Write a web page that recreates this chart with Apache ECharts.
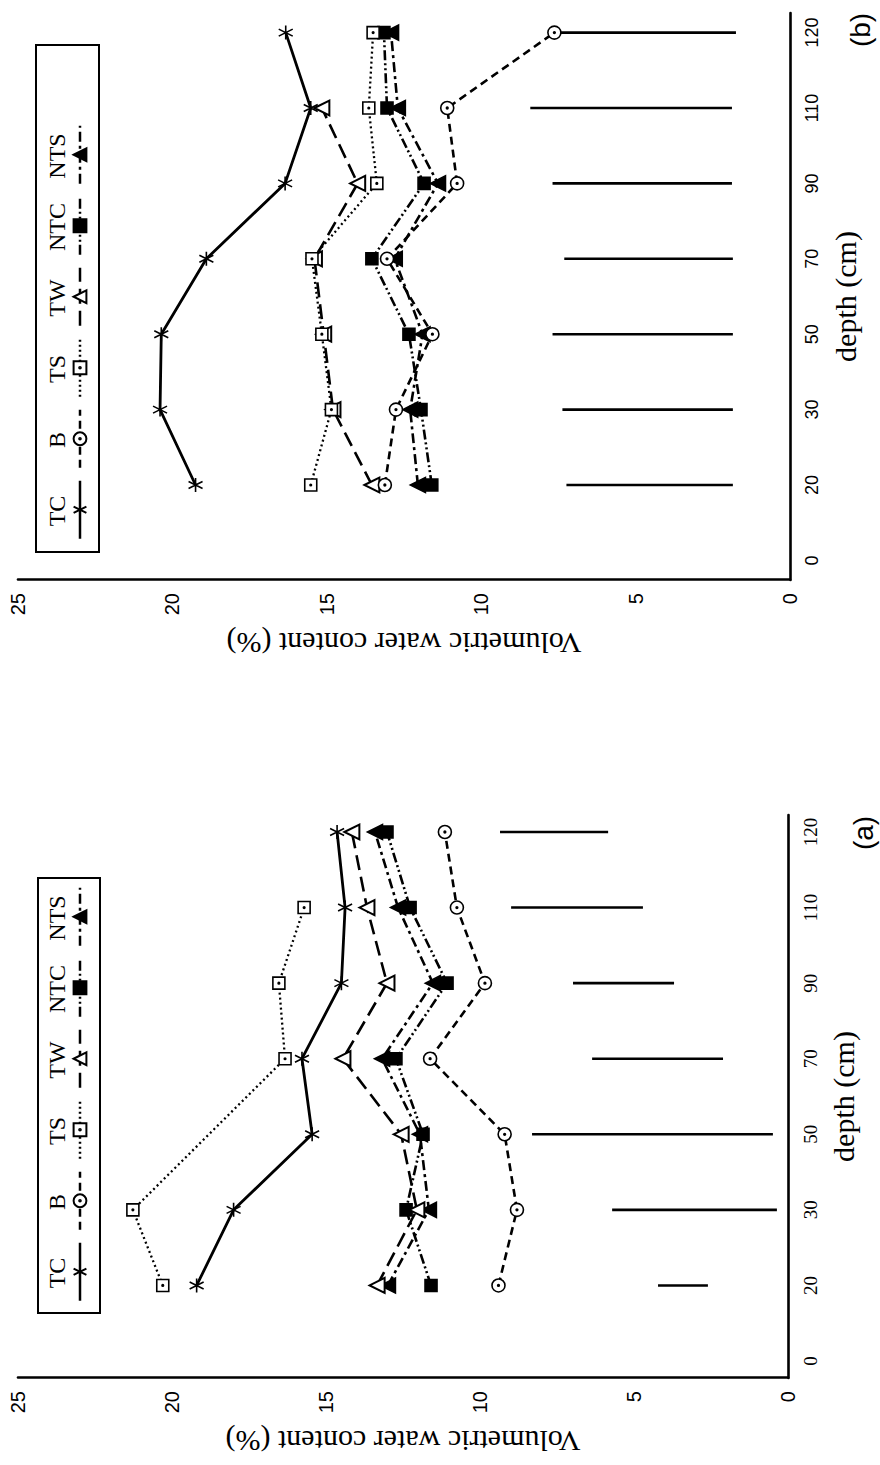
<!DOCTYPE html>
<html>
<head>
<meta charset="utf-8">
<script src="https://cdn.jsdelivr.net/npm/echarts@6/dist/echarts.min.js"></script>
<style>
html,body{margin:0;padding:0;background:#fff;width:880px;height:1465px;overflow:hidden;}
#chart{position:absolute;left:0;top:0;width:1465px;height:880px;transform-origin:0 0;transform:translate(0px,1465px) rotate(-90deg);background:#fff;}
</style>
</head>
<body>
<div id="chart"></div>
<script>
// ---------- data ----------
const depthCats = ['0', '20', '30', '50', '70', '90', '110', '120'];
const measuredDepths = ['20', '30', '50', '70', '90', '110', '120'];
const seriesNames = ['TC', 'B', 'TS', 'TW', 'NTC', 'NTS'];
const valueTicks = [0, 5, 10, 15, 20, 25];

// panel (a)
const a_TC  = [19.2, 18.0, 15.45, 15.78, 14.5, 14.38, 14.64];
const a_B   = [9.4, 8.8, 9.2, 11.62, 9.84, 10.75, 11.14];
const a_TS  = [20.3, 21.27, null, 16.33, 16.53, 15.71, null];
const a_TW  = [13.34, 12.05, 12.56, 14.45, 13.02, 13.67, 14.16];
const a_NTC = [11.59, 12.4, 11.85, 12.73, 11.07, 12.27, 13.02];
const a_NTS = [12.99, 11.66, 11.95, 13.18, 11.53, 12.66, 13.41];
const a_lsdLow  = [2.6, 0.36, 0.49, 2.11, 3.7, 4.71, 5.84];
const a_lsdHigh = [4.22, 5.71, 8.31, 6.36, 6.98, 8.99, 9.35];

// panel (b)
const b_TC  = [19.25, 20.4, 20.36, 18.9, 16.35, 15.52, 16.33];
const b_B   = [13.12, 12.76, 11.58, 13.05, 10.78, 11.1, 7.63];
const b_TS  = [15.52, 14.85, 15.16, 15.48, 13.38, 13.64, 13.5];
const b_TW  = [13.54, 14.8, 15.1, 15.4, 14.0, 15.16, null];
const b_NTC = [11.6, 11.95, 12.34, 13.54, 11.85, 13.05, 13.15];
const b_NTS = [12.05, 12.3, 11.9, 12.8, 11.4, 12.7, 12.92];
const b_lsdLow  = [1.85, 1.85, 1.85, 1.85, 1.88, 1.88, 1.75];
const b_lsdHigh = [7.24, 7.37, 7.69, 7.31, 7.69, 8.41, 7.5];

// ---------- styles ----------
const ASTERISK = 'path://M-10,0L10,0M-5,-8.66L5,8.66M5,-8.66L-5,8.66';
const DOT_CIRCLE = 'path://M10,0A10,10,0,1,1,-10,0A10,10,0,1,1,10,0Z M1.3,0A1.3,1.3,0,1,1,-1.3,0A1.3,1.3,0,1,1,1.3,0Z';
const DOT_SQUARE = 'path://M-10,-10L10,-10L10,10L-10,10Z M1.3,0A1.3,1.3,0,1,1,-1.3,0A1.3,1.3,0,1,1,1.3,0Z';
const styles = {
  TC:  {symbol: ASTERISK, size: 14, width: 2.8, dash: 'solid', fill: '#000', z: 6},
  B:   {symbol: DOT_CIRCLE, size: 13, width: 2.6, dash: [8, 5], fill: '#fff', z: 5},
  TS:  {symbol: DOT_SQUARE, size: 12, width: 2.3, dash: [2, 3], fill: '#fff', z: 4},
  TW:  {symbol: 'emptyTriangle', size: 15, width: 2.6, dash: [15, 7], fill: '#000', z: 3},
  NTC: {symbol: 'rect', size: 12, width: 2.6, dash: [10, 3, 2, 3, 2, 3], fill: '#000', z: 2},
  NTS: {symbol: 'triangle', size: 15, width: 2.6, dash: [10, 4, 3, 4], fill: '#000', z: 2}
};
const SERIF = 'Liberation Serif';
const SANS = 'Liberation Sans';

function lineSeries(name, vals, gi) {
  const st = styles[name];
  return {
    type: 'line', name: name, xAxisIndex: gi, yAxisIndex: gi,
    data: measuredDepths.map((d, i) => vals[i] == null ? null : [depthCats.indexOf(d), vals[i]]).filter(p => p),
    symbol: st.symbol, symbolSize: st.size, showSymbol: true, showAllSymbol: true,
    lineStyle: {color: '#000', width: st.width, type: st.dash},
    itemStyle: {color: st.fill, borderColor: '#000', borderWidth: 1.6},
    emphasis: {disabled: true}, silent: true, animation: false, z: st.z
  };
}
function lsdSeries(low, high, gi) {
  return {
    type: 'custom', xAxisIndex: gi, yAxisIndex: gi, silent: true, animation: false,
    data: measuredDepths.map((d, i) => [depthCats.indexOf(d), low[i], high[i]]),
    encode: {x: 0, y: [1, 2]},
    renderItem: function (params, api) {
      const p1 = api.coord([api.value(0), api.value(1)]);
      const p2 = api.coord([api.value(0), api.value(2)]);
      return {type: 'line', shape: {x1: p1[0], y1: p1[1], x2: p2[0], y2: p2[1]},
              style: {stroke: '#000', lineWidth: 2.6}};
    }
  };
}
function depthAxis(gi, pad, family, size) {
  return {
    type: 'value', gridIndex: gi, min: -pad, max: 7 + pad, position: 'bottom',
    axisLine: {show: true, onZero: false, lineStyle: {color: '#000', width: 2.6}},
    axisTick: {show: false}, splitLine: {show: false},
    axisLabel: {customValues: depthCats.map((_, i) => i), formatter: v => (depthCats[v] !== undefined ? depthCats[v] : ''),
                color: '#000', fontFamily: family, fontSize: size, margin: 13},
    name: 'depth (cm)', nameLocation: 'middle', nameGap: 40,
    nameTextStyle: {color: '#000', fontFamily: SERIF, fontSize: 30}
  };
}
function valueAxis(gi) {
  return {
    type: 'value', gridIndex: gi, min: valueTicks[0], max: valueTicks[valueTicks.length - 1], interval: 5,
    axisLine: {show: true, onZero: false, lineStyle: {color: '#000', width: 2.6}},
    axisTick: {show: false}, splitLine: {show: false},
    axisLabel: {color: '#000', fontFamily: SANS, fontSize: 20, margin: 13},
    name: 'Volumetric water content (%)', nameLocation: 'middle', nameGap: 48, nameRotate: 90,
    nameTextStyle: {color: '#000', fontFamily: SERIF, fontSize: 30}
  };
}
// legend geometry (one single-item legend per entry, so spacing is exact)
const LEG_ITEM_W = 58, LEG_PITCH = 71;
const legendA = {box: [152, 38, 435, 62], first: 163};
const legendB = {box: [913, 36, 507, 63], first: 925};
function mkLegends(cfg) {
  return seriesNames.map((n, i) => ({
    left: cfg.first + i * LEG_PITCH, top: 72, padding: 0, orient: 'horizontal', align: 'left',
    data: [n], itemWidth: LEG_ITEM_W, itemHeight: 16, itemGap: 0,
    formatter: () => '', selectedMode: false, textStyle: {fontSize: 10}, lineStyle: {width: 2.5}
  }));
}
function legendGraphics(cfg) {
  const b = cfg.box;
  const els = [{type: 'rect', silent: true, shape: {x: b[0], y: b[1], width: b[2], height: b[3]},
                style: {fill: 'none', stroke: '#000', lineWidth: 2}}];
  seriesNames.forEach((n, i) => els.push({
    type: 'text', x: cfg.first + i * LEG_PITCH + LEG_ITEM_W / 2, y: 57, silent: true,
    style: {text: n, fill: '#000', fontFamily: SERIF, fontSize: 24, align: 'center', verticalAlign: 'middle'}
  }));
  return els;
}

const option = {
  backgroundColor: '#fff',
  animation: false,
  grid: [
    {left: 87, top: 18, width: 563, height: 770, outerBoundsMode: 'none', containLabel: false},
    {left: 885, top: 18, width: 567, height: 772, outerBoundsMode: 'none', containLabel: false}
  ],
  xAxis: [depthAxis(0, 0.225, SERIF, 19), depthAxis(1, 0.26, SANS, 18)],
  yAxis: [valueAxis(0), valueAxis(1)],
  legend: [].concat(mkLegends(legendA), mkLegends(legendB)),
  graphic: [].concat(
    legendGraphics(legendA),
    legendGraphics(legendB),
    [
      {type: 'text', x: 632, y: 863, silent: true, style: {text: '(a)', fill: '#000', fontFamily: SANS, fontSize: 28, align: 'center', verticalAlign: 'middle'}},
      {type: 'text', x: 1435, y: 860, silent: true, style: {text: '(b)', fill: '#000', fontFamily: SANS, fontSize: 28, align: 'center', verticalAlign: 'middle'}}
    ]
  ),
  series: [
    lineSeries('TC', a_TC, 0), lineSeries('B', a_B, 0), lineSeries('TS', a_TS, 0),
    lineSeries('TW', a_TW, 0), lineSeries('NTC', a_NTC, 0), lineSeries('NTS', a_NTS, 0),
    lsdSeries(a_lsdLow, a_lsdHigh, 0),
    lineSeries('TC', b_TC, 1), lineSeries('B', b_B, 1), lineSeries('TS', b_TS, 1),
    lineSeries('TW', b_TW, 1), lineSeries('NTC', b_NTC, 1), lineSeries('NTS', b_NTS, 1),
    lsdSeries(b_lsdLow, b_lsdHigh, 1)
  ]
};
const chart = echarts.init(document.getElementById('chart'), null, {renderer: 'svg', width: 1465, height: 880});
chart.setOption(option);
</script>
</body>
</html>
